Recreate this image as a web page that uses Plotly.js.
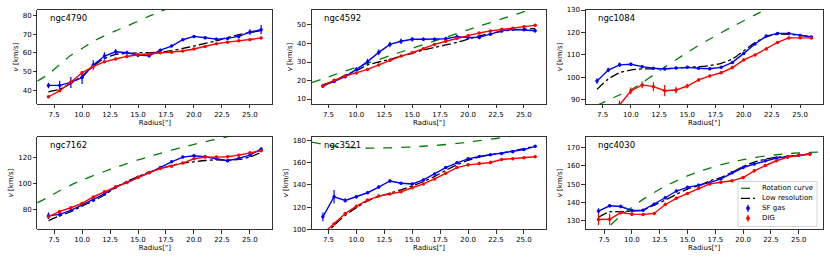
<!DOCTYPE html>
<html>
<head>
<meta charset="utf-8">
<script src="https://cdn.plot.ly/plotly-3.0.1.min.js"></script>
<style>html,body{margin:0;padding:0;background:#fff;}#chart{width:830px;height:260px;}</style>
</head>
<body>
<div id="chart"></div>
<script>
// ---------- data ----------
const radius = [7, 8, 9, 10, 11, 12, 13, 14, 15, 16, 17, 18, 19, 20, 21, 22, 23, 24, 25, 26];
const xTicks = [7.5, 10, 12.5, 15, 17.5, 20, 22.5, 25];
const galaxies = ["ngc4790", "ngc4592", "ngc1084", "ngc7162", "ngc3521", "ngc4030"];

// ngc4790
const ngc4790_sf = [42.5, 42.5, 44.1, 46.8, 53.5, 58.3, 60.6, 60.1, 58.8, 58.5, 61.5, 63.7, 67.1, 68.9, 68.2, 67.4, 67.8, 68.9, 71.2, 72.5];
const ngc4790_sfErr = [1.5, 2.5, 3, 3.5, 2.5, 2, 1.5, 1, 1, 1, 0.7, 0.5, 0.5, 0.7, 0.8, 0.8, 0.8, 1.2, 1.5, 2.5];
const ngc4790_dig = [36.4, 39.6, 44.3, 49.3, 52.7, 55.2, 56.7, 58.1, 59.0, 59.4, 60.1, 60.3, 61.0, 62.1, 63.5, 64.9, 65.8, 66.5, 67.1, 68.0];
const ngc4790_digErr = [0.5, 0.5, 0.6, 1, 0.6, 0.5, 0.5, 0.5, 0.5, 0.5, 0.5, 0.5, 0.5, 0.5, 0.5, 0.5, 0.5, 0.5, 0.5, 0.5];
const ngc4790_low = [39.1, 40.4, 43.6, 47.5, 52.9, 57.0, 59.2, 59.7, 60.1, 60.1, 60.4, 61.2, 62.4, 63.7, 65.1, 66.5, 68.3, 69.8, 71.0, 71.9];
const ngc4790_rotR = [6, 7, 8, 9, 10, 11, 12, 13, 14, 15, 16, 17, 18];
const ngc4790_rotV = [44.8, 48.6, 53.8, 58.7, 62.4, 66.2, 69.2, 71.9, 74.4, 77.1, 79.8, 82.3, 84.7];
const ngc4790_yTicks = [40, 50, 60, 70, 80];

// ngc4592
const ngc4592_sf = [17.0, 19.4, 22.1, 26.0, 30.2, 35.2, 39.5, 41.2, 42.3, 42.3, 42.3, 42.6, 43.7, 43.2, 43.3, 45.0, 46.8, 47.7, 47.5, 46.9];
const ngc4592_sfErr = [0.8, 0.8, 1, 1.2, 1.5, 1.5, 1.5, 1.5, 1.2, 1, 1, 1, 1.2, 1, 1, 1, 0.8, 0.8, 1, 1];
const ngc4592_dig = [17.0, 20.1, 22.4, 24.1, 26.0, 28.4, 30.9, 33.2, 35.0, 37.2, 39.5, 41.2, 42.8, 44.2, 45.7, 46.8, 47.7, 48.2, 49.1, 49.8];
const ngc4592_digErr = [0.5, 0.5, 0.5, 0.5, 0.5, 0.5, 0.5, 0.5, 0.5, 0.5, 0.5, 0.5, 0.5, 0.5, 0.5, 0.5, 0.5, 0.5, 0.5, 0.5];
const ngc4592_low = [17.6, 19.9, 22.8, 25.3, 28.4, 30.0, 31.4, 33.2, 34.7, 36.5, 37.9, 39.2, 40.6, 42.3, 44.1, 45.5, 46.6, 47.3, 47.7, 48.0];
const ngc4592_rotR = [6, 7, 8, 9, 10, 11, 12, 13, 14, 15, 16, 17, 18, 19, 20, 21, 22, 23, 24, 25, 26];
const ngc4592_rotV = [18.8, 20.9, 23.0, 25.1, 27.2, 29.3, 31.3, 33.4, 35.4, 37.4, 39.4, 41.4, 43.4, 45.4, 47.4, 49.4, 51.3, 53.3, 55.2, 57.2, 59.1];
const ngc4592_yTicks = [10, 20, 30, 40, 50];

// ngc1084
const ngc1084_sf = [98.4, 103.3, 105.6, 105.9, 104.8, 104.1, 103.8, 104.2, 104.5, 104.1, 103.9, 104.5, 106.7, 110.7, 114.9, 118.4, 119.6, 119.6, 118.7, 118.0];
const ngc1084_sfErr = [1.2, 1, 1, 0.8, 0.6, 0.5, 0.5, 0.6, 0.5, 0.5, 0.5, 0.5, 0.5, 0.5, 0.5, 0.5, 0.5, 0.5, 0.5, 0.5];
const ngc1084_dig = [null, null, 87.8, 94.0, 96.7, 95.9, 94.1, 94.4, 96.2, 98.9, 100.7, 102.1, 104.4, 107.8, 110.0, 112.7, 115.6, 117.6, 117.7, 117.6];
const ngc1084_digErr = [1, 1, 2, 1.5, 1.5, 2, 2.5, 1.5, 1, 0.7, 0.5, 0.5, 0.5, 0.5, 0.5, 0.5, 0.5, 0.5, 0.5, 0.5];
const ngc1084_low = [94.7, 99.3, 102.1, 103.3, 103.8, 103.8, 103.9, 104.1, 104.5, 104.8, 105.3, 106.3, 108.2, 111.8, 115.5, 118.1, 119.2, 119.2, 118.7, 118.4];
const ngc1084_rotR = [7, 8, 9, 10, 11, 12, 13, 14, 15, 16, 17, 18, 19, 20, 21, 22];
const ngc1084_rotV = [87.6, 90.0, 92.2, 94.5, 97.6, 101.1, 104.6, 107.9, 111.1, 114.2, 117.1, 119.9, 122.6, 125.2, 127.8, 130.3];
const ngc1084_yTicks = [90, 100, 110, 120, 130];

// ngc7162
const ngc7162_sf = [75.1, 76.2, 79.2, 83.3, 87.2, 91.8, 97.2, 100.5, 104.6, 108.0, 112.1, 116.4, 120.0, 121.0, 120.3, 119.0, 117.2, 119.0, 121.5, 126.2];
const ngc7162_sfErr = [2.5, 2, 1, 0.8, 0.8, 0.8, 0.6, 0.6, 0.6, 0.6, 0.6, 0.8, 0.8, 1, 1, 1, 1.2, 1.2, 1, 1];
const ngc7162_dig = [74.4, 78.5, 81.3, 84.6, 89.5, 93.6, 97.2, 100.5, 104.6, 108.2, 111.3, 113.1, 115.4, 118.7, 120.0, 120.0, 120.3, 121.5, 123.3, 124.9];
const ngc7162_digErr = [0.6, 0.6, 0.6, 0.6, 0.6, 0.6, 0.6, 0.6, 0.6, 0.6, 0.6, 0.6, 0.6, 0.6, 0.6, 0.6, 0.6, 0.6, 0.6, 0.6];
const ngc7162_low = [71.5, 75.1, 78.2, 82.6, 86.4, 91.0, 96.7, 101.3, 105.1, 108.5, 111.3, 113.6, 115.4, 116.4, 117.4, 117.9, 117.7, 118.2, 120.0, 123.6];
const ngc7162_rotR = [6, 7, 8, 9, 10, 11, 12, 13, 14, 15, 16, 17, 18, 19, 20, 21, 22, 23, 24];
const ngc7162_rotV = [85.0, 89.5, 94.3, 98.6, 102.4, 105.8, 109.0, 112.1, 115.0, 117.8, 120.4, 122.9, 125.3, 127.6, 129.7, 131.8, 133.7, 135.6, 137.4];
const ngc7162_yTicks = [80, 100, 120];

// ngc3521
const ngc3521_sf = [111.2, 129.3, 126.0, 129.3, 132.9, 138.0, 143.5, 141.4, 140.8, 144.4, 149.8, 155.5, 159.8, 163.4, 165.5, 167.0, 168.2, 169.7, 171.8, 174.6];
const ngc3521_sfErr = [4, 6, 2, 1.5, 1.2, 1.2, 1.5, 1, 1, 1, 1, 1, 1, 1, 0.8, 0.8, 0.8, 1, 1, 1];
const ngc3521_dig = [96.0, 104.8, 114.2, 120.8, 126.3, 129.9, 131.7, 133.8, 137.4, 140.8, 145.3, 150.4, 155.5, 158.0, 159.2, 160.1, 162.8, 163.4, 164.3, 165.2];
const ngc3521_digErr = [1, 1, 1, 1, 1, 1, 1, 1, 1, 1, 1, 1, 1, 1.5, 1.5, 1.5, 1, 1, 1, 1];
const ngc3521_low = [93.0, 103.5, 112.5, 119.5, 125.5, 129.5, 132.5, 135.5, 139.0, 143.0, 147.5, 153.0, 158.0, 162.0, 165.0, 167.0, 168.5, 170.5, 172.5, 175.0];
const ngc3521_rotR = [6, 7, 8, 9, 10, 11, 12, 13, 14, 15, 16, 17, 18, 19, 20, 21, 22, 23, 24, 25];
const ngc3521_rotV = [178.5, 176.5, 174.8, 173.8, 173.3, 173.1, 173.1, 173.3, 173.6, 174.1, 174.7, 175.4, 176.3, 177.3, 178.4, 179.7, 181.0, 182.4, 183.9, 185.5];
const ngc3521_yTicks = [100, 120, 140, 160, 180];

// ngc4030
const ngc4030_sf = [135.2, 138.1, 137.7, 135.5, 135.7, 139.0, 142.5, 146.2, 148.2, 149.4, 150.8, 152.9, 156.2, 159.1, 161.0, 162.8, 164.3, 165.0, 165.8, 166.5];
const ngc4030_sfErr = [1.5, 1, 1, 1, 0.8, 0.8, 0.8, 0.8, 0.8, 0.8, 0.8, 0.8, 0.8, 0.8, 0.8, 0.8, 0.8, 0.8, 0.8, 0.8];
const ngc4030_dig = [130.6, 130.7, 134.4, 133.5, 133.3, 133.9, 138.8, 142.2, 144.9, 147.7, 150.1, 151.0, 151.8, 153.6, 157.3, 160.2, 162.8, 164.8, 165.8, 166.5];
const ngc4030_digErr = [3, 3, 1, 1, 0.8, 0.8, 1, 0.8, 0.8, 0.8, 0.8, 0.8, 0.8, 0.8, 0.8, 0.8, 0.8, 0.8, 0.8, 0.8];
const ngc4030_low = [131.8, 134.8, 134.8, 135.2, 135.7, 138.5, 141.2, 144.4, 147.3, 149.0, 151.8, 153.6, 156.5, 159.7, 162.1, 163.7, 164.7, 165.2, 165.8, 166.5];
const ngc4030_rotR = [7, 8, 9, 10, 11, 12, 13, 14, 15, 16, 17, 18, 19, 20, 21, 22, 23, 24, 25, 26, 27];
const ngc4030_rotV = [120.5, 127.0, 132.5, 137.3, 141.6, 145.4, 148.8, 151.8, 154.5, 156.8, 158.8, 160.6, 162.1, 163.4, 164.5, 165.4, 166.1, 166.7, 167.1, 167.4, 167.6];
const ngc4030_yTicks = [130, 140, 150, 160, 170];

const legendLabels = ["Rotation curve", "Low resolution", "SF gas", "DIG"];

// ---------- layout helpers ----------
const W = 830, H = 260;
const colX = [[37.3, 272.3], [311.7, 546.3], [585.7, 822.7]];
const rowY = [[10, 104], [136.7, 229.3]];
const xRanges = [[6.0, 27.0], [6.0, 27.0], [6.0, 27.0], [6.0, 27.0], [6.0, 27.0], [5.85, 27.15]];
const yRanges = [[32.5, 83.1], [7.3, 58.1], [88.2, 130.0], [64.8, 135.6], [100.0, 183.3], [125.2, 176.0]];

const panels = [
  {sf: ngc4790_sf, sfErr: ngc4790_sfErr, dig: ngc4790_dig, digErr: ngc4790_digErr, low: ngc4790_low, rotR: ngc4790_rotR, rotV: ngc4790_rotV, yTicks: ngc4790_yTicks},
  {sf: ngc4592_sf, sfErr: ngc4592_sfErr, dig: ngc4592_dig, digErr: ngc4592_digErr, low: ngc4592_low, rotR: ngc4592_rotR, rotV: ngc4592_rotV, yTicks: ngc4592_yTicks},
  {sf: ngc1084_sf, sfErr: ngc1084_sfErr, dig: ngc1084_dig, digErr: ngc1084_digErr, low: ngc1084_low, rotR: ngc1084_rotR, rotV: ngc1084_rotV, yTicks: ngc1084_yTicks},
  {sf: ngc7162_sf, sfErr: ngc7162_sfErr, dig: ngc7162_dig, digErr: ngc7162_digErr, low: ngc7162_low, rotR: ngc7162_rotR, rotV: ngc7162_rotV, yTicks: ngc7162_yTicks},
  {sf: ngc3521_sf, sfErr: ngc3521_sfErr, dig: ngc3521_dig, digErr: ngc3521_digErr, low: ngc3521_low, rotR: ngc3521_rotR, rotV: ngc3521_rotV, yTicks: ngc3521_yTicks},
  {sf: ngc4030_sf, sfErr: ngc4030_sfErr, dig: ngc4030_dig, digErr: ngc4030_digErr, low: ngc4030_low, rotR: ngc4030_rotR, rotV: ngc4030_rotV, yTicks: ngc4030_yTicks}
];

const FONT = "DejaVu Sans, Arial, sans-serif";
const GREEN = "#008000", BLUE = "#0000ff", RED = "#ff0000", BLACK = "#000000";

const traces = [];
const layout = {
  width: W, height: H,
  margin: {l: 0, r: 0, t: 0, b: 0, pad: 0},
  paper_bgcolor: "#fff", plot_bgcolor: "#fff",
  showlegend: false,
  font: {family: FONT, size: 7, color: "#000"},
  annotations: [], shapes: []
};

panels.forEach((p, i) => {
  const n = i + 1;
  const xa = n === 1 ? "x" : "x" + n;
  const ya = n === 1 ? "y" : "y" + n;
  const col = i % 3, row = Math.floor(i / 3);
  traces.push({x: p.rotR, y: p.rotV, xaxis: xa, yaxis: ya, mode: "lines", line: {color: GREEN, width: 1.3, dash: "dash", shape: "spline", smoothing: 0.8}, hoverinfo: "skip"});
  traces.push({x: radius, y: p.low, xaxis: xa, yaxis: ya, mode: "lines", line: {color: BLACK, width: 1.3, dash: "dashdot", shape: "spline", smoothing: 0.6}, hoverinfo: "skip"});
  traces.push({x: radius, y: p.sf, xaxis: xa, yaxis: ya, mode: "lines+markers", line: {color: BLUE, width: 1.4}, marker: {color: BLUE, size: 3.5},
    error_y: {type: "data", array: p.sfErr, visible: true, color: BLUE, thickness: 1.2, width: 0}, cliponaxis: true});
  traces.push({x: radius, y: p.dig, xaxis: xa, yaxis: ya, mode: "lines+markers", line: {color: RED, width: 1.4}, marker: {color: RED, size: 3.5},
    error_y: {type: "data", array: p.digErr, visible: true, color: RED, thickness: 1.2, width: 0}, cliponaxis: true});

  const axCommon = {
    showline: true, mirror: true, linecolor: "#000", linewidth: 0.8,
    ticks: "outside", ticklen: 3.5, tickwidth: 0.8, tickcolor: "#000",
    tickfont: {family: FONT, size: 7, color: "#000"},
    showgrid: false, zeroline: false, fixedrange: true
  };
  layout["xaxis" + (n === 1 ? "" : n)] = Object.assign({}, axCommon, {
    domain: [colX[col][0] / W, colX[col][1] / W], anchor: ya, range: xRanges[i],
    tickmode: "array", tickvals: xTicks, ticktext: xTicks.map(v => v.toFixed(1)),
    title: {text: 'Radius["]', font: {family: FONT, size: 7, color: "#000"}, standoff: 1}
  });
  layout["yaxis" + (n === 1 ? "" : n)] = Object.assign({}, axCommon, {
    domain: [1 - rowY[row][1] / H, 1 - rowY[row][0] / H], anchor: xa, range: yRanges[i],
    tickmode: "array", tickvals: p.yTicks, ticktext: p.yTicks.map(String),
    title: {text: "<i>v</i> [km/s]", font: {family: FONT, size: 7, color: "#000"}, standoff: 3}
  });
  layout.annotations.push({
    text: galaxies[i], xref: xa + " domain", yref: ya + " domain", x: 0.045, y: 0.99,
    xanchor: "left", yanchor: "top", showarrow: false, font: {family: FONT, size: 8.5, color: "#000"}
  });
});

// ---------- manual legend (matplotlib style) in panel 6 ----------
const px = v => v / W, py = v => 1 - v / H;
layout.shapes.push({type: "rect", xref: "paper", yref: "paper", x0: px(738), x1: px(817), y0: py(226.5), y1: py(181.5),
  line: {color: "#cccccc", width: 0.8}, fillcolor: "rgba(255,255,255,0.8)", layer: "above"});
const rowsY = [188.3, 198.3, 208.3, 218.3];
layout.shapes.push({type: "line", xref: "paper", yref: "paper", x0: px(741), x1: px(755), y0: py(rowsY[0]), y1: py(rowsY[0]), line: {color: GREEN, width: 1.3, dash: "dash"}, layer: "above"});
layout.shapes.push({type: "line", xref: "paper", yref: "paper", x0: px(741), x1: px(755), y0: py(rowsY[1]), y1: py(rowsY[1]), line: {color: BLACK, width: 1.3, dash: "dashdot"}, layer: "above"});
[[rowsY[2], BLUE], [rowsY[3], RED]].forEach(([yy, c]) => {
  layout.shapes.push({type: "line", xref: "paper", yref: "paper", x0: px(748), x1: px(748), y0: py(yy + 3.5), y1: py(yy - 3.5), line: {color: c, width: 1.2}, layer: "above"});
  layout.shapes.push({type: "circle", xref: "paper", yref: "paper", x0: px(746.3), x1: px(749.7), y0: py(yy + 1.7), y1: py(yy - 1.7), line: {color: c, width: 0.5}, fillcolor: c, layer: "above"});
});
legendLabels.forEach((t, k) => {
  layout.annotations.push({text: t, xref: "paper", yref: "paper", x: px(760), y: py(rowsY[k]), xanchor: "left", yanchor: "middle",
    showarrow: false, font: {family: FONT, size: 7, color: "#000"}});
});

Plotly.newPlot("chart", traces, layout, {staticPlot: true, displayModeBar: false});
</script>
</body>
</html>
